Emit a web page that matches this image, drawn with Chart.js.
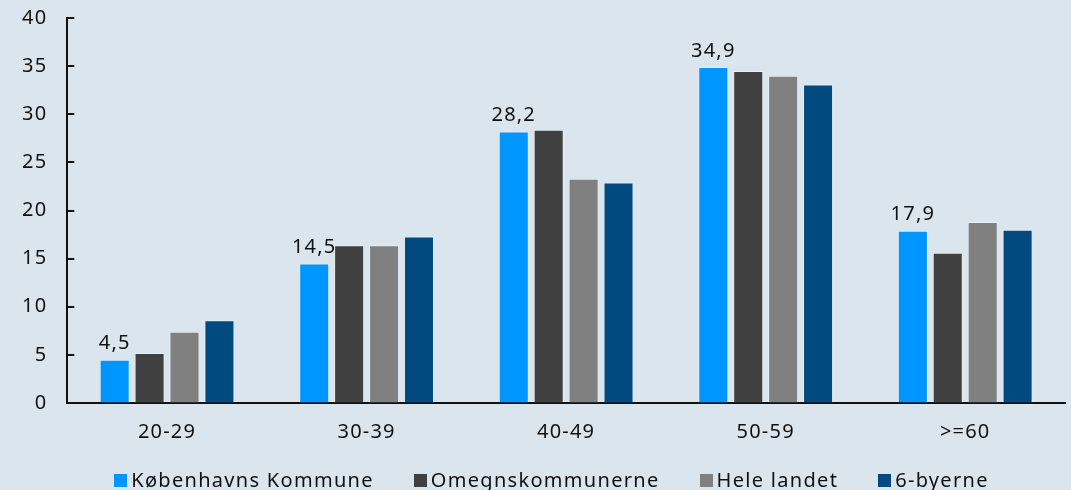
<!DOCTYPE html>
<html>
<head>
<meta charset="utf-8">
<script src="https://cdn.jsdelivr.net/npm/chart.js@4/dist/chart.umd.min.js"></script>
<style>
  html, body { margin: 0; padding: 0; background: #dbe5ee; overflow: hidden; }
  #wrap { position: relative; width: 1071px; height: 490px; }
  #legend {
    position: absolute; left: 0; top: 469px; width: 1071px;
    display: flex; justify-content: center; gap: 40px;
    font-family: "Noto Sans", sans-serif; font-size: 20px; letter-spacing: 1.3px;
    color: #111; line-height: 22px;
    padding-left: 32px; box-sizing: border-box;
  }
  #legend span.item { display: flex; align-items: center; white-space: nowrap; }
  #legend i { display: inline-block; width: 13px; height: 13px; margin-right: 4px; }
</style>
</head>
<body>
<div id="wrap">
  <canvas id="chart" width="1071" height="490"></canvas>
  <div id="legend"></div>
</div>
<script>
const ageGroups = ['20-29', '30-39', '40-49', '50-59', '>=60'];
const seriesNames = ['Københavns Kommune', 'Omegnskommunerne', 'Hele landet', '6-byerne'];
const koebenhavn = [4.5, 14.5, 28.2, 34.9, 17.9];
const omegn = [5.2, 16.4, 28.4, 34.5, 15.6];
const heleLandet = [7.4, 16.4, 23.3, 34.0, 18.8];
const seksByer = [8.6, 17.3, 22.9, 33.1, 18.0];
const yTicks = [0, 5, 10, 15, 20, 25, 30, 35, 40];

const colors = ['#0096ff', '#404040', '#808080', '#004a80'];
const seriesData = [koebenhavn, omegn, heleLandet, seksByer];
const fontFamily = '"Noto Sans", sans-serif';

// wider text, like the original
const spacing = {
  id: 'spacing',
  beforeLayout(chart) { chart.ctx.letterSpacing = '1.2px'; },
  beforeDraw(chart) { chart.ctx.letterSpacing = '1.2px'; }
};

// ticks on the y axis point into the plot
const innerTicks = {
  id: 'innerTicks',
  afterDraw(chart) {
    const y = chart.scales.y;
    const ctx = chart.ctx;
    ctx.save();
    ctx.strokeStyle = '#111';
    ctx.lineWidth = 2;
    yTicks.forEach(v => {
      const py = Math.round(y.getPixelForValue(v));
      ctx.beginPath();
      ctx.moveTo(y.right, py);
      ctx.lineTo(y.right + 7, py);
      ctx.stroke();
    });
    ctx.restore();
  }
};

// value labels only above the first series
const firstSeriesLabels = {
  id: 'firstSeriesLabels',
  afterDatasetsDraw(chart) {
    const ctx = chart.ctx;
    const meta = chart.getDatasetMeta(0);
    ctx.save();
    ctx.font = '20px ' + fontFamily;
    ctx.fillStyle = '#111';
    ctx.textAlign = 'center';
    ctx.textBaseline = 'bottom';
    meta.data.forEach((bar, i) => {
      ctx.fillText(koebenhavn[i].toFixed(1).replace('.', ','), bar.x, bar.y - 6);
    });
    ctx.restore();
  }
};

new Chart(document.getElementById('chart'), {
  type: 'bar',
  data: {
    labels: ageGroups,
    datasets: seriesNames.map((name, i) => ({
      label: name,
      data: seriesData[i],
      backgroundColor: colors[i],
      borderColor: 'rgba(255,255,255,0.35)',
      borderWidth: 1,
      categoryPercentage: 0.7,
      barPercentage: 0.86,
    })),
  },
  options: {
    responsive: false,
    animation: false,
    layout: { padding: { top: 18, right: 6, left: 22, bottom: 29 } },
    plugins: { legend: { display: false }, tooltip: { enabled: false } },
    scales: {
      x: {
        grid: { display: false, drawTicks: false },
        border: { color: '#111', width: 2 },
        ticks: { color: '#111', font: { family: fontFamily, size: 20 }, padding: 17 },
      },
      y: {
        min: 0,
        max: 40,
        afterBuildTicks: scale => { scale.ticks = yTicks.map(v => ({ value: v })); },
        grid: { drawOnChartArea: false, drawTicks: true, tickLength: 20, tickColor: 'rgba(0,0,0,0)' },
        border: { color: '#111', width: 2 },
        ticks: { color: '#111', font: { family: fontFamily, size: 20 }, padding: 0 },
      },
    },
  },
  plugins: [spacing, innerTicks, firstSeriesLabels],
});

const legend = document.getElementById('legend');
seriesNames.forEach((name, i) => {
  const item = document.createElement('span');
  item.className = 'item';
  item.innerHTML = '<i style="background:' + colors[i] + '"></i>' + name;
  legend.appendChild(item);
});
</script>
</body>
</html>
